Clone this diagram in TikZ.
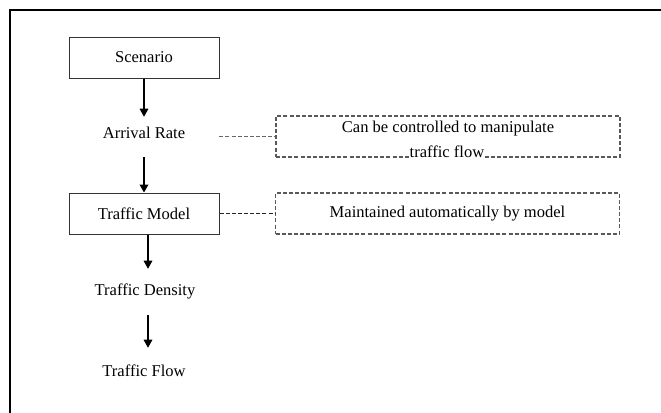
\documentclass[tikz,border=0pt]{standalone}
\usepackage{fontspec}
\setmainfont{Liberation Serif}
\usetikzlibrary{arrows.meta}
\begin{document}
\begin{tikzpicture}[x=0.75pt,y=-0.75pt,
  every node/.style={font=\fontsize{12.4pt}{14pt}\selectfont, text=black},
  solidbox/.style={draw=black!80, line width=0.75pt, minimum width=112.5pt, minimum height=30.75pt, inner sep=0pt},
  plain/.style={minimum width=112.5pt, inner sep=0pt},
  dbox/.style={draw=black!65, dashed, dash pattern=on 3pt off 1.6pt, line width=0.8pt, minimum width=258pt, minimum height=30.75pt, inner sep=0pt},
  arr/.style={-{Triangle[width=6.5pt,length=6pt]}, line width=0.8pt, black},
  link/.style={dashed, dash pattern=on 3pt off 1.6pt}
]
\useasboundingbox (0,0) rectangle (661,412);
\fill[white] (0,0) rectangle (661,412);
\draw[line width=1.6pt, line cap=rect] (10,412) -- (10,10) -- (661,10);

\node[solidbox] (sc) at (144,57.5) {Scenario};
\node[plain, minimum height=24pt] (ar) at (144,133) {Arrival Rate};
\node[solidbox] (tm) at (144,213.5) {Traffic Model};
\node[plain, minimum height=33pt] (td) at (145,291) {Traffic Density};
\node[plain, minimum height=34.5pt] (tf) at (144,371) {Traffic Flow};

\node[dbox] (b1) at (448,136.5) {};
\node (b1a) at (448,128.5) {Can be controlled to manipulate};
\node[fill=white, inner sep=0.8pt] (b1b) at (447,151.5) {traffic flow};
\node[dbox] (b2) at (447.5,213.5) {Maintained automatically by model};

\draw[arr] (sc.south) -- (ar.north);
\draw[arr, line width=1.2pt, shorten <=6pt] (ar.south) -- (tm.north);
\draw[arr] ([xshift=3pt]tm.south) -- ([xshift=2.25pt]td.north);
\draw[arr, shorten <=1.5pt] ([xshift=2.25pt]td.south) -- ([xshift=3pt]tf.north);

\draw[link, draw=black!60, line width=0.6pt] (ar.east |- b1.west) -- (b1.west);
\draw[link, draw=black!85, line width=1pt] (tm.east) -- (b2.west);
\end{tikzpicture}
\end{document}
